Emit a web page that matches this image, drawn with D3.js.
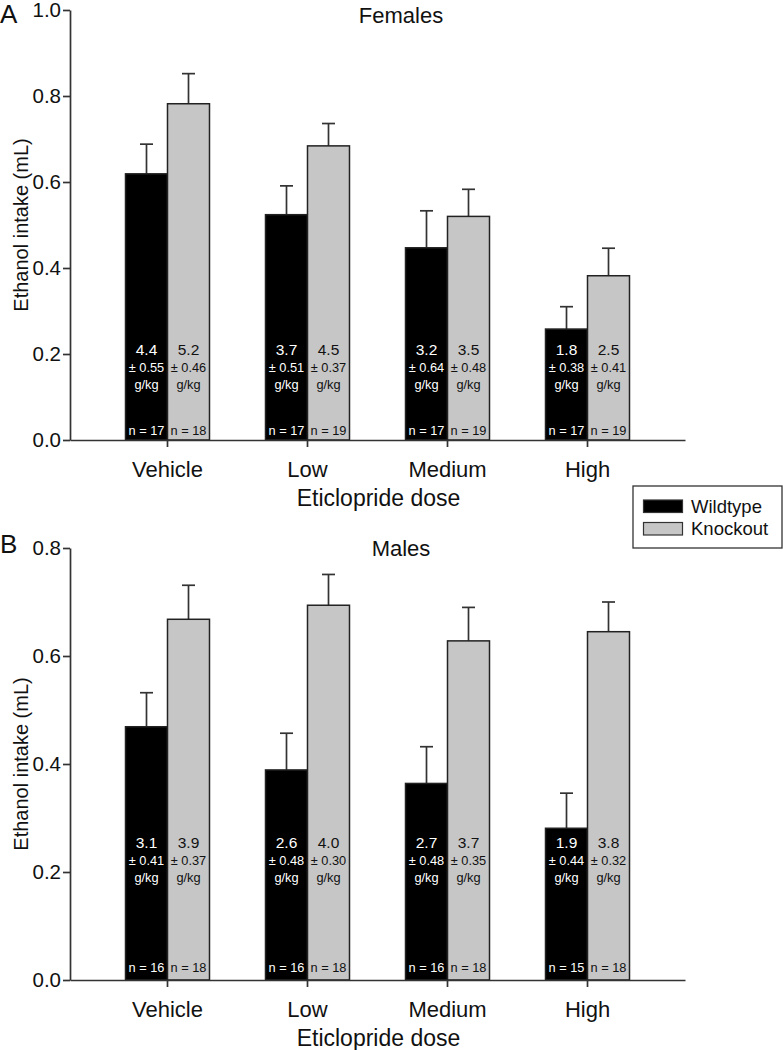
<!DOCTYPE html>
<html>
<head>
<meta charset="utf-8">
<script src="https://cdn.jsdelivr.net/npm/d3@7"></script>
<style>
  html, body { margin: 0; padding: 0; background: #fff; }
  svg { display: block; font-family: "Liberation Sans", Arial, sans-serif; }
</style>
</head>
<body>
<svg id="chart" width="783" height="1050"></svg>
<script>
// ---------- DATA ----------
const categories = ["Vehicle", "Low", "Medium", "High"];
const groups = ["Wildtype", "Knockout"];
const yTicksFemales = [0.0, 0.2, 0.4, 0.6, 0.8, 1.0];
const yTicksMales = [0.0, 0.2, 0.4, 0.6, 0.8];

const femalesWT = [0.619, 0.524, 0.447, 0.258];
const femalesWTsem = [0.069, 0.067, 0.086, 0.052];
const femalesKO = [0.782, 0.684, 0.520, 0.382];
const femalesKOsem = [0.070, 0.052, 0.063, 0.064];
const femalesWTdose = ["4.4", "3.7", "3.2", "1.8"];
const femalesWTdoseSD = ["0.55", "0.51", "0.64", "0.38"];
const femalesKOdose = ["5.2", "4.5", "3.5", "2.5"];
const femalesKOdoseSD = ["0.46", "0.37", "0.48", "0.41"];
const femalesWTn = [17, 17, 17, 17];
const femalesKOn = [18, 19, 19, 19];

const malesWT = [0.469, 0.389, 0.364, 0.281];
const malesWTsem = [0.063, 0.068, 0.068, 0.065];
const malesKO = [0.668, 0.694, 0.628, 0.645];
const malesKOsem = [0.063, 0.057, 0.062, 0.055];
const malesWTdose = ["3.1", "2.6", "2.7", "1.9"];
const malesWTdoseSD = ["0.41", "0.48", "0.48", "0.44"];
const malesKOdose = ["3.9", "4.0", "3.7", "3.8"];
const malesKOdoseSD = ["0.37", "0.30", "0.35", "0.32"];
const malesWTn = [16, 16, 16, 15];
const malesKOn = [18, 18, 18, 18];

// ---------- STYLE ----------
const colors = { Wildtype: "#000000", Knockout: "#c6c6c6" };
const textColors = { Wildtype: "#ffffff", Knockout: "#111111" };
const axisColor = "#333";

const svg = d3.select("#chart");

function buildRows(wt, wtSem, ko, koSem, wtDose, wtSD, koDose, koSD, wtN, koN) {
  return categories.map((c, i) => ({
    cat: c,
    bars: [
      { grp: "Wildtype", v: wt[i], sem: wtSem[i], dose: wtDose[i], sd: wtSD[i], n: wtN[i] },
      { grp: "Knockout", v: ko[i], sem: koSem[i], dose: koDose[i], sd: koSD[i], n: koN[i] }
    ]
  }));
}

function drawPanel(cfg) {
  const g = svg.append("g");
  const x0 = d3.scaleBand().domain(categories).range([cfg.xLeft, cfg.xRight])
    .paddingInner(0.4).paddingOuter(0.3964);
  const x1 = d3.scaleBand().domain(groups).range([0, x0.bandwidth()]);
  const y = d3.scaleLinear().domain([0, cfg.yMax]).range([cfg.yBottom, cfg.yTop]);

  const grp = g.selectAll("g.cat").data(cfg.rows).join("g")
    .attr("transform", d => `translate(${x0(d.cat)},0)`);

  // error bars (upper only)
  grp.selectAll("g.err").data(d => d.bars).join("g").each(function(d) {
    const cx = x1(d.grp) + x1.bandwidth() / 2;
    const s = d3.select(this);
    s.append("line").attr("x1", cx).attr("x2", cx)
      .attr("y1", y(d.v)).attr("y2", y(d.v + d.sem))
      .attr("stroke", axisColor).attr("stroke-width", 1.7);
    s.append("line").attr("x1", cx - 6.5).attr("x2", cx + 6.5)
      .attr("y1", y(d.v + d.sem)).attr("y2", y(d.v + d.sem))
      .attr("stroke", axisColor).attr("stroke-width", 1.7);
  });

  grp.selectAll("rect").data(d => d.bars).join("rect")
    .attr("x", d => x1(d.grp))
    .attr("y", d => y(d.v))
    .attr("width", x1.bandwidth())
    .attr("height", d => y(0) - y(d.v))
    .attr("fill", d => colors[d.grp])
    .attr("stroke", "#222")
    .attr("stroke-width", 1.5);

  // in-bar text
  grp.each(function(d) {
    const s = d3.select(this);
    d.bars.forEach(b => {
      const cx = x1(b.grp) + x1.bandwidth() / 2;
      const col = textColors[b.grp];
      s.append("text").attr("x", cx).attr("y", cfg.yBottom - cfg.txtOff)
        .attr("text-anchor", "middle").attr("dominant-baseline", "central")
        .attr("font-size", 15.5).attr("fill", col).text(b.dose);
      s.append("text").attr("x", cx).attr("y", cfg.yBottom - cfg.txtOff + 18.5)
        .attr("text-anchor", "middle").attr("dominant-baseline", "central")
        .attr("font-size", 12.8).attr("fill", col).text("\u00b1 " + b.sd);
      s.append("text").attr("x", cx).attr("y", cfg.yBottom - cfg.txtOff + 35.5)
        .attr("text-anchor", "middle").attr("dominant-baseline", "central")
        .attr("font-size", 12.8).attr("fill", col).text("g/kg");
      s.append("text").attr("x", cx).attr("y", cfg.yBottom - cfg.nOff)
        .attr("text-anchor", "middle").attr("dominant-baseline", "central")
        .attr("font-size", 12.8).attr("fill", col).text("n = " + b.n);
    });
  });

  // y axis
  const yAxis = g.append("g").attr("transform", `translate(${cfg.xLeft},0)`)
    .call(d3.axisLeft(y).tickValues(cfg.yTicks).tickFormat(d3.format(".1f"))
      .tickSize(7).tickPadding(2).tickSizeOuter(0));
  yAxis.select(".domain").attr("stroke", axisColor).attr("stroke-width", 1.7);
  yAxis.selectAll(".tick line").attr("stroke", axisColor).attr("stroke-width", 1.7);
  yAxis.selectAll(".tick text").attr("font-size", 20.5).attr("fill", "#111")
    .attr("font-family", "Liberation Sans, Arial, sans-serif");

  // x axis
  const xAxis = g.append("g").attr("transform", `translate(0,${cfg.yBottom})`)
    .call(d3.axisBottom(x0).tickSize(7).tickPadding(14).tickSizeOuter(0));
  xAxis.select(".domain").attr("stroke", axisColor).attr("stroke-width", 1.7);
  xAxis.selectAll(".tick line").attr("stroke", axisColor).attr("stroke-width", 1.7);
  xAxis.selectAll(".tick text").attr("font-size", 22).attr("fill", "#111")
    .attr("font-family", "Liberation Sans, Arial, sans-serif")
    .attr("dy", null).attr("y", 29).attr("dominant-baseline", "central");

  // axis titles
  g.append("text").attr("x", (cfg.xLeft + cfg.xRight) / 2 + 1).attr("y", cfg.yBottom + 58)
    .attr("text-anchor", "middle").attr("dominant-baseline", "central")
    .attr("font-size", 23).attr("fill", "#111").text("Eticlopride dose");
  g.append("text")
    .attr("transform", `translate(21,${(cfg.yTop + cfg.yBottom) / 2}) rotate(-90)`)
    .attr("text-anchor", "middle").attr("dominant-baseline", "central")
    .attr("font-size", 20).attr("fill", "#111").text("Ethanol intake (mL)");

  // panel title and letter
  g.append("text").attr("x", 401).attr("y", cfg.titleY)
    .attr("text-anchor", "middle").attr("dominant-baseline", "central")
    .attr("font-size", 22).attr("fill", "#111").text(cfg.title);
  g.append("text").attr("x", 0).attr("y", cfg.letterY)
    .attr("dominant-baseline", "central")
    .attr("font-size", 26).attr("fill", "#111").text(cfg.letter);
}

drawPanel({
  rows: buildRows(femalesWT, femalesWTsem, femalesKO, femalesKOsem,
    femalesWTdose, femalesWTdoseSD, femalesKOdose, femalesKOdoseSD, femalesWTn, femalesKOn),
  yMax: 1.0, yTicks: yTicksFemales, yTop: 10, yBottom: 440,
  xLeft: 70, xRight: 685,
  txtOff: 91, nOff: 9.5,
  title: "Females", titleY: 15, letter: "A", letterY: 14
});

drawPanel({
  rows: buildRows(malesWT, malesWTsem, malesKO, malesKOsem,
    malesWTdose, malesWTdoseSD, malesKOdose, malesKOdoseSD, malesWTn, malesKOn),
  yMax: 0.8, yTicks: yTicksMales, yTop: 548, yBottom: 980,
  xLeft: 70, xRight: 685,
  txtOff: 138, nOff: 12.5,
  title: "Males", titleY: 548, letter: "B", letterY: 544
});

// ---------- LEGEND ----------
const legend = svg.append("g").attr("transform", "translate(633,486)");
legend.append("rect").attr("x", 0).attr("y", 0).attr("width", 149).attr("height", 62)
  .attr("fill", "#fff").attr("stroke", "#333").attr("stroke-width", 1.3);
groups.forEach((gname, i) => {
  legend.append("rect").attr("x", 10.5).attr("y", 14 + i * 22.5).attr("width", 39).attr("height", 12.5)
    .attr("fill", colors[gname]).attr("stroke", "#333").attr("stroke-width", 1.2);
  legend.append("text").attr("x", 58).attr("y", 20.5 + i * 21.5)
    .attr("dominant-baseline", "central").attr("font-size", 18.5).attr("fill", "#111").text(gname);
});
</script>
</body>
</html>
